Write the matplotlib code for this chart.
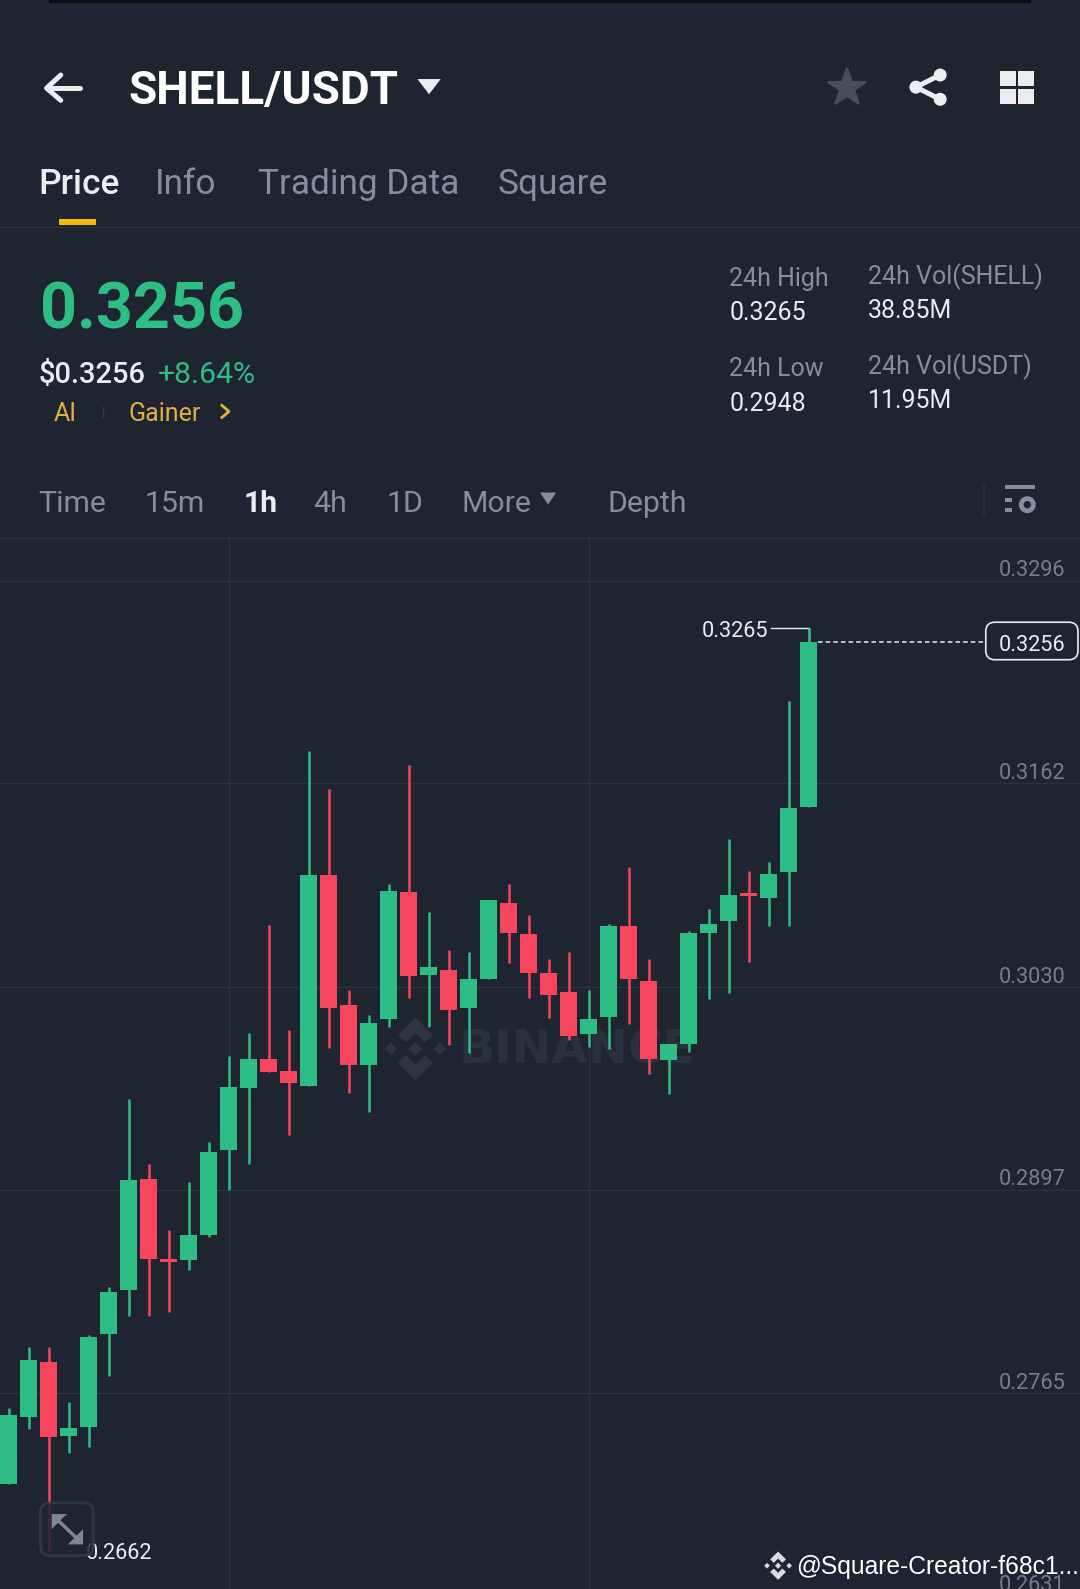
import numpy as np
import matplotlib
matplotlib.use('Agg')
import matplotlib.pyplot as plt
from matplotlib.patches import Polygon, Rectangle, FancyBboxPatch, Circle

# hourly candles, left to right
opens = [0.27054, 0.27495, 0.27854, 0.27373, 0.27427, 0.28035, 0.28323, 0.29051, 0.28526, 0.28519,
         0.28686, 0.29238, 0.29645, 0.29834, 0.29756, 0.29655, 0.31036, 0.30184, 0.29796, 0.30097,
         0.30925, 0.30384, 0.30415, 0.30167, 0.30356, 0.30855, 0.30652, 0.30395, 0.30273, 0.29995,
         0.30106, 0.30705, 0.30343, 0.29825, 0.29934, 0.30657, 0.30735, 0.30916, 0.30885, 0.31055,
         0.31478]
highs = [0.27552, 0.27954, 0.27954, 0.27594, 0.28031, 0.28342, 0.29574, 0.29145, 0.28715, 0.29032,
         0.29294, 0.29851, 0.30003, 0.30709, 0.30023, 0.31846, 0.31595, 0.30284, 0.30121, 0.30977,
         0.31757, 0.30792, 0.30546, 0.30530, 0.30874, 0.30975, 0.30774, 0.30485, 0.30533, 0.30284,
         0.30716, 0.31086, 0.30485, 0.29934, 0.30672, 0.30814, 0.31273, 0.31064, 0.31123, 0.32175,
         0.32650]
lows = [0.27054, 0.27414, 0.26620, 0.27262, 0.27299, 0.27765, 0.28153, 0.28153, 0.28183, 0.28457,
        0.28668, 0.28975, 0.29147, 0.29746, 0.29336, 0.29655, 0.29903, 0.29614, 0.29489, 0.30045,
        0.30234, 0.30045, 0.29925, 0.29875, 0.30356, 0.30463, 0.30234, 0.30104, 0.29958, 0.29914,
        0.29897, 0.30064, 0.29733, 0.29603, 0.29877, 0.30226, 0.30262, 0.30465, 0.30705, 0.30705,
        0.31478]
closes = [0.27505, 0.27864, 0.27365, 0.27422, 0.28016, 0.28313, 0.29044, 0.28526, 0.28509, 0.28681,
          0.29226, 0.29650, 0.29834, 0.29746, 0.29675, 0.31036, 0.30165, 0.29796, 0.30071, 0.30933,
          0.30374, 0.30432, 0.30156, 0.30354, 0.30874, 0.30655, 0.30393, 0.30254, 0.29986, 0.30093,
          0.30705, 0.30354, 0.29836, 0.29934, 0.30655, 0.30713, 0.30903, 0.30896, 0.31044, 0.31474,
          0.32560]

# gridlines sit at unrounded prices, the labels are what the app prints
price_ticks = [0.32960, 0.31636, 0.30305, 0.28981, 0.27650, 0.26330]
price_labels = ['0.3296', '0.3162', '0.3030', '0.2897', '0.2765', '0.2631']
vgrid_candles = [11, 29]
last_price = 0.3256
high_price = 0.3265
low_price = 0.2662

stat_labels = ['24h High', '24h Vol(SHELL)', '24h Low', '24h Vol(USDT)']
stat_values = ['0.3265', '38.85M', '0.2948', '11.95M']
tabs = ['Price', 'Info', 'Trading Data', 'Square']
intervals = ['Time', '15m', '1h', '4h', '1D', 'More', 'Depth']

BG = '#1e2530'
GREEN = '#2ebd85'
RED = '#f6465d'
GRAY = '#848e9c'
WHITE = '#eaecef'
GRID = '#2c333e'
YELLOW = '#f0b90b'

plt.rcParams['font.family'] = ['Roboto', 'DejaVu Sans']

fig = plt.figure(figsize=(10.8, 15.89), dpi=100, facecolor=BG)

# chart part, the bottom of the screen
ax = fig.add_axes([0, 0, 1, 1 - 538 / 1589], facecolor=BG)
opens_a = np.array(opens)
closes_a = np.array(closes)
x = np.arange(len(opens))
up = closes_a >= opens_a
colors = np.where(up, GREEN, RED)

ax.vlines(x, lows, highs, colors=colors, linewidth=1.8, zorder=3)
heights = np.abs(closes_a - opens_a)
bottoms = np.minimum(opens_a, closes_a)
ax.bar(x, heights, bottom=bottoms, width=0.88, color=colors, zorder=4)

ax.set_xlim(-0.43, 53.57)
ax.set_yticks(price_ticks)
ax.set_xticks(vgrid_candles)
ax.set_ylim(0.26371, 0.33238)
ax.grid(True, color=GRID, linewidth=1)
ax.set_axisbelow(True)
ax.tick_params(length=0, labelleft=False, labelbottom=False)
for s in ax.spines.values():
    s.set_visible(False)

trans = ax.get_yaxis_transform()
for t, lab in zip(price_ticks, price_labels):
    ax.text(0.9865, t + 0.00063, lab, transform=trans, ha='right', va='center',
            fontsize=15.7, color=GRAY, alpha=0.85, clip_on=False)

# last price marker
last_idx = len(opens) - 1
ax.plot([last_idx + 0.45, 48.75], [last_price, last_price], color=WHITE, lw=1.1, ls=(0, (3, 2)), zorder=5)
ax.plot([last_idx, last_idx, last_idx - 1.9], [closes[-1], high_price, high_price], color=WHITE, lw=1, zorder=2)
ax.text(last_idx - 2.0, high_price - 0.0002, f'{high_price:.4f}', ha='right', va='center', fontsize=15.7, color=WHITE)
ax.text(7.2, low_price - 0.0002, f'{low_price:.4f}', ha='right', va='center', fontsize=15.7, color=WHITE, zorder=6)

# pixel overlay for the app screen, same size as the reference view
ov = fig.add_axes([0, 0, 1, 1], facecolor='none')
ov.set_xlim(0, 1066)
ov.set_ylim(1568, 0)
ov.axis('off')


def binance_logo(axis, cx, cy, r, color, zorder=1):
    def diamond(dx, dy, size):
        axis.add_patch(Polygon([(cx + dx, cy + dy - size), (cx + dx + size, cy + dy),
                                (cx + dx, cy + dy + size), (cx + dx - size, cy + dy)],
                               color=color, lw=0, zorder=zorder))
    diamond(0, 0, r * 0.22)
    diamond(-r * 0.78, 0, r * 0.2)
    diamond(r * 0.78, 0, r * 0.2)
    # upper and lower chevrons
    for sign in (-1, 1):
        axis.add_patch(Polygon([(cx, cy + sign * r), (cx + r * 0.56, cy + sign * r * 0.44),
                                (cx + r * 0.3, cy + sign * r * 0.2), (cx, cy + sign * r * 0.5),
                                (cx - r * 0.3, cy + sign * r * 0.2), (cx - r * 0.56, cy + sign * r * 0.44)],
                               color=color, lw=0, zorder=zorder))


# watermark, sits behind the candles
binance_logo(ov, 410, 1035, 31, '#2e3541', zorder=1)
ov.set_zorder(0)
ax.set_zorder(1)
ax.patch.set_alpha(0)
ov.text(453, 1037, 'BINANCE', fontsize=34, fontweight='bold', color='#2a313c', va='center', ha='left',
        family='DejaVu Sans')

# second overlay on top for the header and icons
top = fig.add_axes([0, 0, 1, 1], facecolor='none')
top.set_xlim(0, 1066)
top.set_ylim(1568, 0)
top.axis('off')
top.set_zorder(2)

top.add_patch(Rectangle((48, 0), 970, 3, color='#0b0d11', lw=0))

# header
top.plot([46, 79], [87, 87], color=WHITE, lw=3.6, solid_capstyle='round')
top.plot([60, 46, 60], [74, 87, 99], color=WHITE, lw=3.6, solid_capstyle='round', solid_joinstyle='round')
top.text(127, 90, 'SHELL/USDT', fontsize=33, fontweight='bold', color='white', va='center', ha='left')
top.add_patch(Polygon([(412, 78), (435, 78), (423.5, 93)], color=WHITE, lw=0, joinstyle='round'))
top.plot([836], [87], marker='*', markersize=29, color='#474e5a', mew=1.5, mec='#474e5a')
# share icon
share = [(928, 74), (904, 86), (928, 98)]
top.plot(*zip(*share), color=WHITE, lw=3.6)
for p in share:
    top.add_patch(Circle(p, 6.4, color=WHITE, lw=0))
for gx, gy in [(987, 70), (1005, 70), (987, 88), (1005, 88)]:
    top.add_patch(Rectangle((gx, gy), 15.5, 14.5, color=WHITE, lw=0))

# tabs
for label, tx in zip(tabs, [38, 153, 255, 491]):
    top.text(tx, 182, label, fontsize=25.4, color=WHITE if label == 'Price' else GRAY,
             fontweight='medium' if label == 'Price' else 'normal', va='center', ha='left')
top.add_patch(Rectangle((58, 216), 37, 6.5, color=YELLOW, lw=0))
top.plot([0, 1066], [224, 224], color=GRID, lw=1)

# price block
top.text(39, 307, '0.3256', fontsize=46.5, fontweight='bold', color=GREEN, va='center', ha='left')
top.text(38, 370, '$0.3256', fontsize=21, fontweight='medium', color=WHITE, va='center', ha='left')
top.text(156, 370, '+8.64%', fontsize=21.8, color=GREEN, va='center', ha='left')
top.text(53, 409, 'AI', fontsize=18, color='#e0b040', va='center', ha='left')
top.plot([101.5, 101.5], [402, 411], color='#353c47', lw=1)
top.text(127, 409, 'Gainer', fontsize=18, color='#e0b040', va='center', ha='left')
top.plot([219, 226, 219], [400, 406, 412], color='#e0b040', lw=2)

for label, value, sx, ly, vy in zip(stat_labels, stat_values, [720, 857, 720, 857],
                                    [275, 273, 364, 362], [309, 307, 399, 396]):
    top.text(sx, ly, label, fontsize=18, color=GRAY, va='center', ha='left')
    top.text(sx, vy, value, fontsize=18, color=WHITE, va='center', ha='left')

# interval row
for label, tx in zip(intervals, [38, 143, 240, 309, 381, 456, 600]):
    top.text(tx, 497, label, fontsize=21.8, color=WHITE if label == '1h' else GRAY,
             fontweight='bold' if label == '1h' else 'normal', va='center', ha='left')
top.add_patch(Polygon([(533, 486), (549, 486), (541, 498)], color=GRAY, lw=0))
top.plot([971, 971], [478, 508], color=GRID, lw=1.2)
top.add_patch(Rectangle((992, 479), 30, 4, color=GRAY, lw=0))
top.add_patch(Rectangle((992, 491), 7, 4, color=GRAY, lw=0))
top.add_patch(Rectangle((992, 501), 7, 4, color=GRAY, lw=0))
top.add_patch(Circle((1014, 498), 6, facecolor='none', edgecolor=GRAY, lw=3.4))
top.plot([0, 1066], [531, 531], color=GRID, lw=1)

# current price box
top.add_patch(FancyBboxPatch((973, 614), 91, 37, boxstyle='round,pad=0,rounding_size=9',
                             facecolor=BG, edgecolor=WHITE, lw=1.2))
top.text(1018.5, 637, f'{last_price:.4f}', fontsize=15.7, color=WHITE, va='center', ha='center')

# expand button over the chart
top.add_patch(FancyBboxPatch((40, 1483), 52, 52, boxstyle='round,pad=0,rounding_size=9',
                             facecolor=BG, edgecolor='#343b47', lw=2, alpha=0.85))
top.add_patch(Polygon([(51, 1494), (66, 1494), (51, 1509)], color='#80858f', lw=0))
top.add_patch(Polygon([(82, 1524), (67, 1524), (82, 1509)], color='#80858f', lw=0))
top.plot([55, 78], [1498, 1520], color='#80858f', lw=2.5)

# watermark of the post
binance_logo(top, 768, 1545, 14, '#d8dade', zorder=3)
top.text(786, 1546, '@Square-Creator-f68c1...', fontsize=17.7, color='white', va='center', ha='left',
         family=['Liberation Sans', 'DejaVu Sans'], zorder=3)

fig.savefig('out.png', dpi=100, facecolor=BG)
